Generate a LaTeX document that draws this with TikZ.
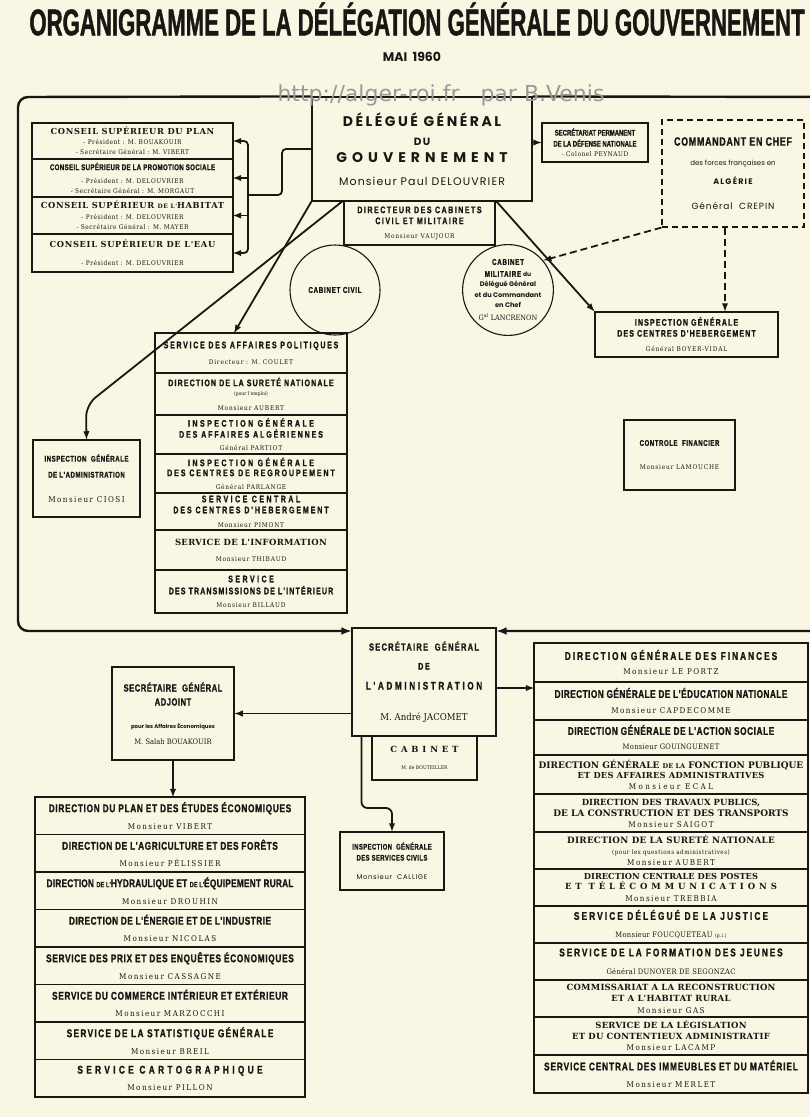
\documentclass[tikz,border=0pt]{standalone}
\usepackage{graphicx}
\usepackage{fontspec}
\setmainfont{DejaVu Serif}[FakeStretch=0.9]
\newfontfamily\hd{Liberation Sans}[FakeStretch=0.74, BoldFeatures={FakeBold=1.2}]
\newfontfamily\sbf{DejaVu Serif}
\newfontfamily\geo{Poppins}
\newfontfamily\wm{DejaVu Sans}
\usetikzlibrary{positioning, arrows}
\definecolor{paper}{RGB}{249,246,228}
\definecolor{ink}{RGB}{25,22,20}

% headings
\newcommand\hA[2][18]{{\hd\bfseries\addfontfeature{LetterSpace=#1}\fontsize{9.5}{10}\selectfont #2}}
\newcommand\hB[2][6]{{\hd\bfseries\addfontfeature{LetterSpace=#1}\fontsize{11.2}{12}\selectfont #2}}
\newcommand\hC[2][8]{{\hd\bfseries\fontsize{#1}{9}\selectfont #2}}
\newcommand\sB[2][8.5]{{\sbf\bfseries\fontsize{#1}{10}\selectfont #2}}
% names
\newcommand\nm[1]{{\addfontfeature{LetterSpace=12}\fontsize{6.5}{8}\selectfont #1}}
\newcommand\nmB[1]{{\addfontfeature{LetterSpace=18}\fontsize{8}{9}\selectfont #1}}
\newcommand\nmC[1]{{\addfontfeature{LetterSpace=4}\fontsize{7.5}{9}\selectfont #1}}
\newcommand\sm[1]{{\addfontfeature{LetterSpace=8}\fontsize{6.5}{7}\selectfont #1}}
\newcommand\tn[1]{{\fontsize{5}{6}\selectfont #1}}

\begin{document}
\begin{tikzpicture}[x=1pt, y=-1pt, ink,
    box/.style={draw, line width=1.1pt, align=center, inner sep=1pt,
      font={\fontsize{7}{0}\selectfont\lineskiplimit=-1000pt}},
    row/.style={box, outer sep=0pt},
    rowC/.style={row, minimum width=201pt},
    rowL/.style={row, minimum width=192pt},
    rowB/.style={row, minimum width=270pt, minimum height=37.5pt},
    rowR/.style={row, minimum width=274pt},
    link/.style={line width=1.8pt},
    dlink/.style={line width=1.8pt, dash pattern=on 7pt off 4pt},
    frame/.style={line width=2.4pt, rounded corners=10pt},
  ]
\fill[paper] (0,0) rectangle (810,1117);
\useasboundingbox (0,0) rectangle (810,1117);

% title
\node (title) at (417,19) {\resizebox{775pt}{33pt}{\hd\bfseries ORGANIGRAMME DE LA DÉLÉGATION GÉNÉRALE DU GOUVERNEMENT}};
\node[font=\geo\bfseries\fontsize{12.5}{13}\selectfont] (mai) at (412,57) {MAI\ \ 1960};

% top
\node[box, minimum width=220pt, minimum height=104pt] (dg) at (422,149)
  {{\geo\bfseries\addfontfeature{LetterSpace=18}\fontsize{14}{15}\selectfont DÉLÉGUÉ GÉNÉRAL}\\[19pt]
   {\geo\bfseries\addfontfeature{LetterSpace=14}\fontsize{10.5}{12}\selectfont DU}\\[17pt]
   {\geo\bfseries\addfontfeature{LetterSpace=36}\fontsize{14}{15}\selectfont GOUVERNEMENT}\\[23pt]
   {\geo\addfontfeature{LetterSpace=10}\fontsize{11}{12}\selectfont Monsieur Paul DELOUVRIER}};
\node[box, minimum width=151pt, minimum height=44pt] (dc) at (419.5,223)
  {\hA[16]{DIRECTEUR DES CABINETS}\\[11pt]\hA[16]{CIVIL ET MILITAIRE}\\[14pt]\nm{Monsieur VAUJOUR}};
\node[box, circle, minimum size=90pt, inner sep=0pt] (cc) at (335,290)
  {\hC[8.5]{\addfontfeature{LetterSpace=8}CABINET CIVIL}};
\node[box, circle, minimum size=86pt, inner sep=0pt] (cm) at (508,290)
  {\hC[8.5]{\addfontfeature{LetterSpace=8}CABINET}\\[12pt]
   \hC[8.5]{\addfontfeature{LetterSpace=8}MILITAIRE} {\geo\bfseries\fontsize{6}{6}\selectfont du}\\[10pt]
   {\geo\bfseries\fontsize{6.6}{7}\selectfont Délégué Général}\\[11pt]
   {\geo\bfseries\fontsize{6.6}{7}\selectfont et du Commandant}\\[10pt]
   {\geo\bfseries\fontsize{6.6}{7}\selectfont en Chef}\\[13pt]
   {\fontsize{7.3}{8}\selectfont G\textsuperscript{al} LANCRENON}};
\node[box, minimum width=106pt, minimum height=39pt] (sdn) at (595,142.5)
  {\hC[8]{SECRÉTARIAT PERMANENT}\\[11pt]\hC[8]{DE LA DÉFENSE NATIONALE}\\[10pt]\sm{- Colonel PEYNAUD}};
\node[box, dash pattern=on 6pt off 4pt, minimum width=142pt, minimum height=107pt] (cmd) at (733,173.5)
  {\hC[12]{\addfontfeature{LetterSpace=6}COMMANDANT EN CHEF}\\[20pt]
   {\geo\fontsize{7}{7}\selectfont des forces françaises en}\\[19pt]
   {\geo\bfseries\addfontfeature{LetterSpace=15}\fontsize{8}{8}\selectfont ALGÉRIE}\\[25pt]
   {\geo\addfontfeature{LetterSpace=10}\fontsize{9}{9}\selectfont Général\ \ CREPIN}};
\node[box, minimum width=183pt, minimum height=45pt] (ich) at (686.5,334.5)
  {\hA[12]{INSPECTION GÉNÉRALE}\\[11pt]\hA[12]{DES CENTRES D'HEBERGEMENT}\\[15pt]\nm{Général BOYER-VIDAL}};

% conseils
\node[rowC, minimum height=36pt, anchor=north] (c1) at (132.5,123)
  {\sB[8.3]{\addfontfeature{LetterSpace=8}CONSEIL SUPÉRIEUR DU PLAN}\\[10pt]\sm{- Président : M. BOUAKOUIR}\\[10pt]\sm{- Secrétaire Général : M. VIBERT}};
\node[rowC, minimum height=38pt, below=0pt of c1] (c2)
  {\hC[8.3]{\addfontfeature{LetterSpace=4}CONSEIL SUPÉRIEUR DE LA PROMOTION SOCIALE}\\[13pt]\sm{- Président : M. DELOUVRIER}\\[10pt]\sm{- Secrétaire Général : M. MORGAUT}};
\node[rowC, minimum height=37pt, below=0pt of c2] (c3)
  {\sB[8.3]{\addfontfeature{LetterSpace=8}CONSEIL SUPÉRIEUR {\fontsize{6}{7}\selectfont DE L'}HABITAT}\\[11pt]\sm{- Président : M. DELOUVRIER}\\[10pt]\sm{- Secrétaire Général : M. MAYER}};
\node[rowC, minimum height=38pt, below=0pt of c3] (c4)
  {\sB[8.3]{\addfontfeature{LetterSpace=8}CONSEIL SUPÉRIEUR DE L'EAU}\\[18pt]\sm{- Président : M. DELOUVRIER}};

% services rattaches
\node[rowL, minimum height=40pt, anchor=north] (pol) at (251,333)
  {\hA{SERVICE DES AFFAIRES POLITIQUES}\\[16pt]\nm{Directeur : M. COULET}};
\node[rowL, minimum height=42pt, below=0pt of pol] (surn)
  {\hA[12]{DIRECTION DE LA SURETÉ NATIONALE}\\[9pt]\tn{(pour l'emploi)}\\[15pt]\nm{Monsieur AUBERT}};
\node[rowL, minimum height=39pt, below=0pt of surn] (iaa)
  {\hA[26]{INSPECTION GÉNÉRALE}\\[11pt]\hA[20]{DES AFFAIRES ALGÉRIENNES}\\[13pt]\nm{Général PARTIOT}};
\node[rowL, minimum height=39pt, below=0pt of iaa] (icr)
  {\hA[26]{INSPECTION GÉNÉRALE}\\[10pt]\hA[20]{DES CENTRES DE REGROUPEMENT}\\[13pt]\nm{Général PARLANGE}};
\node[rowL, minimum height=37pt, below=0pt of icr] (sch)
  {\hA[26]{SERVICE CENTRAL}\\[11pt]\hA[20]{DES CENTRES D'HEBERGEMENT}\\[14pt]\nm{Monsieur PIMONT}};
\node[rowL, minimum height=40pt, below=0pt of sch] (sinf)
  {\sB[8.5]{\addfontfeature{LetterSpace=4}SERVICE DE L'INFORMATION}\\[16pt]\nm{Monsieur THIBAUD}};
\node[rowL, minimum height=43pt, below=0pt of sinf] (stri)
  {\hA[26]{SERVICE}\\[12pt]\hA[12]{DES TRANSMISSIONS DE L'INTÉRIEUR}\\[13pt]\nm{Monsieur BILLAUD}};

\node[box, minimum width=107pt, minimum height=77pt] (iga) at (86.5,478.5)
  {\hC[8.3]{\addfontfeature{LetterSpace=6}INSPECTION\ \ GÉNÉRALE}\\[16pt]\hC[8.3]{\addfontfeature{LetterSpace=6}DE L'ADMINISTRATION}\\[25pt]\nmB{Monsieur CIOSI}};
\node[box, minimum width=111pt, minimum height=70pt] (cf) at (679.5,455)
  {\hC[8.3]{\addfontfeature{LetterSpace=6}CONTROLE\ \ FINANCIER}\\[24pt]\nm{Monsieur LAMOUCHE}};

% secretariat general
\node[box, minimum width=144pt, minimum height=108pt] (sg) at (424,682)
  {\hA[12]{\fontsize{10.2}{11}\selectfont SECRÉTAIRE\ \ GÉNÉRAL}\\[19pt]\hA{DE}\\[20pt]{\hd\bfseries\addfontfeature{LetterSpace=24}\fontsize{11}{12}\selectfont L'ADMINISTRATION}\\[31pt]{\fontsize{9.5}{10}\selectfont M. André JACOMET}};
\node[box, minimum width=105pt, minimum height=44pt] (cab) at (424.5,758)
  {\sB[8.5]{\addfontfeature{LetterSpace=45}CABINET}\\[17pt]\tn{M. de BOUTEILLER}};
\node[box, minimum width=104pt, minimum height=58pt] (igsc) at (392,861)
  {\hC[8]{\addfontfeature{LetterSpace=5}INSPECTION\ \ GÉNÉRALE}\\[11pt]\hC[8]{\addfontfeature{LetterSpace=5}DES SERVICES CIVILS}\\[19pt]{\geo\addfontfeature{LetterSpace=10}\fontsize{6.8}{7}\selectfont Monsieur\ \ CALLIGE}};
\node[box, minimum width=122pt, minimum height=93pt] (sga) at (173,713.5)
  {\hC[10.3]{\addfontfeature{LetterSpace=5}SECRÉTAIRE\ \ GÉNÉRAL}\\[14pt]\hC[10.3]{\addfontfeature{LetterSpace=5}ADJOINT}\\[23pt]{\geo\bfseries\fontsize{5.4}{6}\selectfont pour les Affaires Économiques}\\[16pt]{\fontsize{7.5}{8}\selectfont M. Salah BOUAKOUIR}};

% directions, affaires economiques
\node[rowB, anchor=north] (l1) at (170,797) {\hB{DIRECTION DU PLAN ET DES ÉTUDES ÉCONOMIQUES}\\[17pt]\nmB{Monsieur VIBERT}};
\node[rowB, below=0pt of l1] (l2) {\hB[5]{DIRECTION DE L'AGRICULTURE ET DES FORÊTS}\\[17pt]\nmB{Monsieur PÉLISSIER}};
\node[rowB, below=0pt of l2] (l3) {\hB[2]{DIRECTION {\fontsize{7.5}{8}\selectfont DE L'}HYDRAULIQUE ET {\fontsize{7.5}{8}\selectfont DE L'}ÉQUIPEMENT RURAL}\\[17pt]\nmB{Monsieur DROUHIN}};
\node[rowB, below=0pt of l3] (l4) {\hB[4]{DIRECTION DE L'ÉNERGIE ET DE L'INDUSTRIE}\\[17pt]\nmB{Monsieur NICOLAS}};
\node[rowB, below=0pt of l4] (l5) {\hB{SERVICE DES PRIX ET DES ENQUÊTES ÉCONOMIQUES}\\[17pt]\nmB{Monsieur CASSAGNE}};
\node[rowB, below=0pt of l5] (l6) {\hB{SERVICE DU COMMERCE INTÉRIEUR ET EXTÉRIEUR}\\[17pt]\nmB{Monsieur MARZOCCHI}};
\node[rowB, below=0pt of l6] (l7) {\hB[12]{SERVICE DE LA STATISTIQUE GÉNÉRALE}\\[17pt]\nmB{Monsieur BREIL}};
\node[rowB, below=0pt of l7] (l8) {\hB[30]{SERVICE CARTOGRAPHIQUE}\\[17pt]\nmB{Monsieur PILLON}};

% directions generales
\node[rowR, minimum height=39pt, anchor=north] (r1) at (671,643) {\hB[18]{DIRECTION GÉNÉRALE DES FINANCES}\\[15pt]\nmB{Monsieur LE PORTZ}};
\node[rowR, minimum height=38pt, below=0pt of r1] (r2) {\hB[4]{DIRECTION GÉNÉRALE DE L'ÉDUCATION NATIONALE}\\[16pt]\nmB{Monsieur CAPDECOMME}};
\node[rowR, minimum height=35pt, below=0pt of r2] (r3) {\hB[5]{DIRECTION GÉNÉRALE DE L'ACTION SOCIALE}\\[15pt]\nmC{Monsieur GOUINGUENET}};
\node[rowR, minimum height=39pt, below=0pt of r3] (r4) {\sB[9]{DIRECTION GÉNÉRALE {\fontsize{6.5}{7}\selectfont DE LA} FONCTION PUBLIQUE}\\[10pt]\sB[8.3]{\addfontfeature{LetterSpace=3}ET DES AFFAIRES ADMINISTRATIVES}\\[11pt]{\addfontfeature{LetterSpace=30}\fontsize{8}{9}\selectfont Monsieur ECAL}};
\node[rowR, minimum height=38pt, below=0pt of r4] (r5) {\sB[8.5]{DIRECTION DES TRAVAUX PUBLICS,}\\[11pt]\sB[9]{DE LA CONSTRUCTION ET DES TRANSPORTS}\\[11pt]\nmB{Monsieur SAIGOT}};
\node[rowR, minimum height=37pt, below=0pt of r5] (r6) {\sB[8.8]{\addfontfeature{LetterSpace=3}DIRECTION DE LA SURETÉ NATIONALE}\\[11pt]{\addfontfeature{LetterSpace=8}\fontsize{6.2}{7}\selectfont (pour les questions administratives)}\\[11pt]\nmB{Monsieur AUBERT}};
\node[rowR, minimum height=37pt, below=0pt of r6] (r7) {\sB[8.3]{DIRECTION CENTRALE DES POSTES}\\[10pt]\sB[8.5]{\addfontfeature{LetterSpace=46}ET TÉLÉCOMMUNICATIONS}\\[12pt]\nmB{Monsieur TREBBIA}};
\node[rowR, minimum height=37pt, below=0pt of r7] (r8) {\hB[19]{SERVICE DÉLÉGUÉ DE LA JUSTICE}\\[18pt]\nmC{Monsieur FOUCQUETEAU \tn{(p.i.)}}};
\node[rowR, minimum height=37pt, below=0pt of r8] (r9) {\hB[17]{SERVICE DE LA FORMATION DES JEUNES}\\[18pt]\nmC{Général DUNOYER DE SEGONZAC}};
\node[rowR, minimum height=37pt, below=0pt of r9] (r10) {\sB[8.5]{\addfontfeature{LetterSpace=3}COMMISSARIAT A LA RECONSTRUCTION}\\[11pt]\sB[8.5]{\addfontfeature{LetterSpace=3}ET A L'HABITAT RURAL}\\[12pt]\nmB{Monsieur GAS}};
\node[rowR, minimum height=38pt, below=0pt of r10] (r11) {\sB[8.5]{\addfontfeature{LetterSpace=3}SERVICE DE LA LÉGISLATION}\\[11pt]\sB[8.5]{\addfontfeature{LetterSpace=3}ET DU CONTENTIEUX ADMINISTRATIF}\\[11pt]\nmB{Monsieur LACAMP}};
\node[rowR, minimum height=38pt, below=0pt of r11] (r12) {\hB[8]{SERVICE CENTRAL DES IMMEUBLES ET DU MATÉRIEL}\\[17pt]\nmB{Monsieur MERLET}};

% frame
\draw[frame, -latex] (dg.north west) -- (18,97) -- (18,631) -- (sg.west |- 0,631);
\draw[frame, -latex] (dg.north east) -- (840,97) -- (840,631) -- (sg.east |- 0,631);

% links
\coordinate (cb) at (248,195);
\draw[link, rounded corners=4pt] (dg.west |- 0,149) -| (282,195) -- (cb);
\draw[link, -latex, rounded corners=4pt] (cb) |- (c1.east);
\draw[link, -latex] (cb) |- (c2.east);
\draw[link, -latex] (cb) |- (c3.east);
\draw[link, -latex, rounded corners=4pt] (cb) |- (c4.east);
\draw[link, -latex] (dg.east |- sdn.west) -- (sdn.west);
\draw[link, -latex] (dg.south west) -- (pol.north -| 234,0);
\draw[link, -latex, rounded corners=12pt] (dc.north west) -- (86,405) -- (iga.north);
\draw[link, -latex] (dc.north east) -- (ich.north west);
\draw[dlink, -latex] (cmd.south west) -- (cm.40);
\draw[dlink, -latex] ([xshift=-8pt]cmd.south) -- ([xshift=-8pt]cmd.south |- ich.north);
\draw[link, -latex] (sg.west |- sga.east) -- (sga.east);
\draw[link, -latex] (sga.south) -- (sga.south |- l1.north);
\draw[link, -latex] ([yshift=-6pt]sg.east) -- ([yshift=-6pt]sg.east -| r1.west);
\draw[link, -latex, rounded corners=6pt] ([xshift=10pt]sg.south west) |- (igsc.north |- 0,808) -- (igsc.north);

% watermark
\node[text=black!40, font=\wm\fontsize{22}{24}\selectfont] (wmk) at (441,95) {http://alger-roi.fr\ \ \ par B.Venis};
\end{tikzpicture}
\end{document}
